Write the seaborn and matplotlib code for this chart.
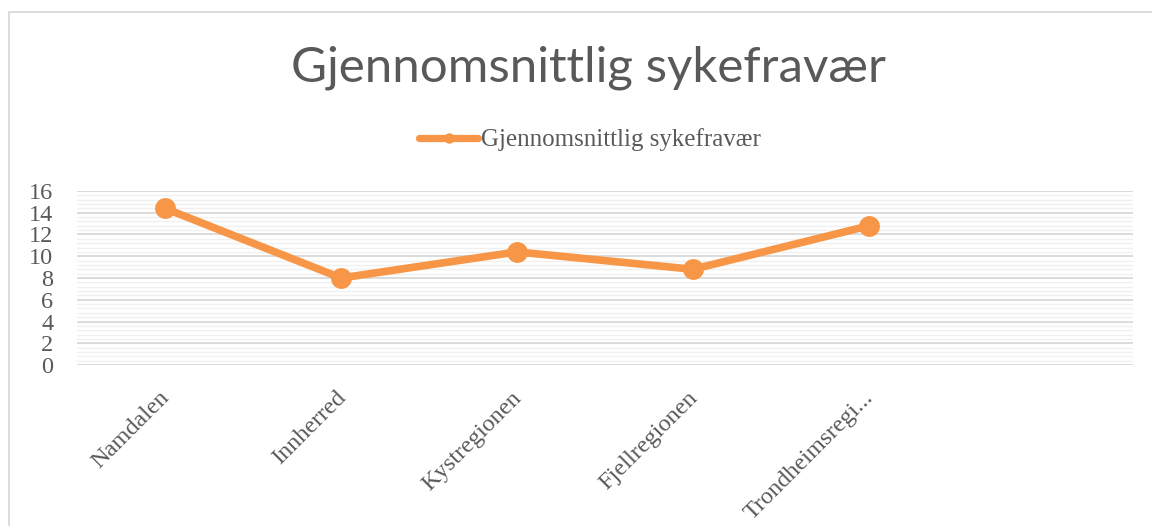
import matplotlib
matplotlib.use("Agg")
import matplotlib.pyplot as plt
import seaborn as sns
import pandas as pd
from matplotlib.patches import Rectangle
from matplotlib.ticker import MultipleLocator
from matplotlib.transforms import ScaledTranslation

categories = ["Namdalen", "Innherred", "Kystregionen", "Fjellregionen", "Trondheimsregi..."]
values = [14.4, 8.0, 10.4, 8.8, 12.8]
series_name = "Gjennomsnittlig sykefravær"
title = "Gjennomsnittlig sykefravær"
yticks = [0, 2, 4, 6, 8, 10, 12, 14, 16]

sns.set_theme(style="white")
plt.rcParams['font.family'] = ['Liberation Serif', 'DejaVu Serif']

df = pd.DataFrame({"region": categories, "value": values, "series": series_name})

fig = plt.figure(figsize=(11.52, 5.26), dpi=100)
ax = fig.add_axes([77/1152, 1-365/526, (1133-77)/1152, (365-191)/526])

# chart area border
fig.patches.append(Rectangle((9/1152, -0.1), 1.2, 1-12/526+0.1, transform=fig.transFigure,
                             fill=False, edgecolor="#d9d9d9", linewidth=1.3, zorder=0))

orange = "#F79646"
sns.lineplot(data=df, x="region", y="value", hue="series", palette=[orange], ax=ax,
             sort=False, linewidth=5.5, marker="o", markersize=15, markeredgewidth=0,
             legend=True)

ax.set_xlim(-0.5, 5.5)
ax.set_ylim(0, 16)
ax.set_yticks(yticks)
ax.yaxis.set_minor_locator(MultipleLocator(0.4))
ax.grid(True, which="major", axis="y", color="#d9d9d9", linewidth=1.3)
ax.grid(True, which="minor", axis="y", color="#f0f0f0", linewidth=1.0)
ax.set_axisbelow(True)
for s in ax.spines.values():
    s.set_visible(False)
ax.tick_params(axis="both", which="both", length=0)
ax.set_xlabel("")
ax.set_ylabel("")
ax.set_xticks(range(len(categories)))
ax.set_xticklabels(categories, rotation=45, ha="right", rotation_mode="anchor",
                   fontsize=17.5, color="#595959")
ax.tick_params(axis="x", pad=16)
ax.tick_params(axis="y", pad=17)
offset = ScaledTranslation(-6/100, 0, fig.dpi_scale_trans)
for lab in ax.get_xticklabels():
    lab.set_transform(lab.get_transform() + offset)
for lab in ax.get_yticklabels():
    lab.set_fontsize(17.5)
    lab.set_color("#595959")

ax.legend_.remove()
handles, labels = ax.get_legend_handles_labels()
leg = fig.legend(handles, [series_name], loc="center", bbox_to_anchor=(590/1152, 1-140/526),
                 frameon=False, fontsize=18, handlelength=2.36, handletextpad=0.1,
                 labelcolor="#595959")
for h in leg.legend_handles:
    h.set_markersize(7.5)
    h.set_linewidth(5.2)

fig.text(588/1152, 1-68/526, title, ha="center", va="center", fontsize=35.5,
         color="#595959", family=["Lato", "DejaVu Sans"])

fig.savefig("out.png", dpi=100)
